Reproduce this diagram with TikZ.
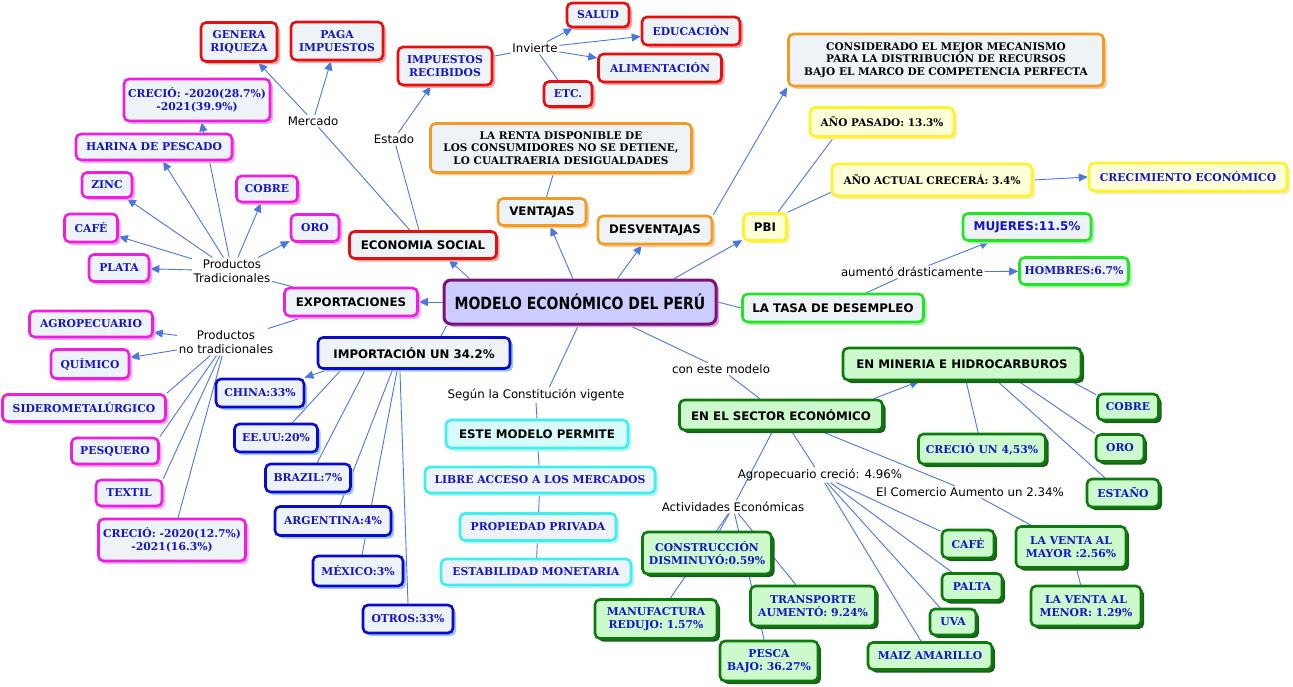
\documentclass[tikz,border=0pt]{standalone}
\usepackage{fontspec}
\setmainfont{DejaVu Serif}
\setsansfont{DejaVu Sans}
\usepackage{graphicx}
\usetikzlibrary{arrows.meta,shadows}
\definecolor{cred}{HTML}{E60F0F}
\definecolor{shred}{HTML}{F7A6A6}
\definecolor{cmag}{HTML}{EE1EE0}
\definecolor{shmag}{HTML}{F7A8EA}
\definecolor{corange}{HTML}{F29A26}
\definecolor{shorange}{HTML}{F7CC98}
\definecolor{cyel}{HTML}{FFF22A}
\definecolor{shyel}{HTML}{F4F0A8}
\definecolor{yfill}{HTML}{FFFFD8}
\definecolor{cgreen}{HTML}{22E622}
\definecolor{shgreen}{HTML}{A8EEA8}
\definecolor{cdgreen}{HTML}{0E7A0E}
\definecolor{shdgreen}{HTML}{1C5E1C}
\definecolor{dfill}{HTML}{CCFACC}
\definecolor{cblue}{HTML}{0A0ACD}
\definecolor{shblue}{HTML}{9EC4F8}
\definecolor{ccyan}{HTML}{3CF0F0}
\definecolor{shcyan}{HTML}{B8F2F2}
\definecolor{cyfill}{HTML}{D6FCFC}
\definecolor{cpurple}{HTML}{7A127A}
\definecolor{cfill}{HTML}{CCCCFF}
\definecolor{shpurple}{HTML}{D9A0E8}
\definecolor{boxfill}{HTML}{EEF3F7}
\definecolor{tblue}{HTML}{1414C8}
\definecolor{cline}{HTML}{4A78E0}
\pgfdeclarelayer{bgwhite}
\pgfdeclarelayer{edges}
\pgfsetlayers{bgwhite,edges,main}
\begin{document}
\begin{tikzpicture}[x=1pt,y=-1pt,
  base/.style={rounded corners=5pt, line width=2.6pt, align=center, inner sep=1pt, fill=boxfill},
  sh/.style={drop shadow={shadow xshift=3pt, shadow yshift=-3pt, fill=#1, opacity=1}},
  sansbold/.style={font=\sffamily\bfseries\fontsize{11.8}{14}\selectfont},
  bluesans/.style={font=\sffamily\bfseries\fontsize{12}{14}\selectfont, text=tblue},
  blueserif/.style={font=\rmfamily\bfseries\fontsize{10.8}{12.5}\selectfont, text=tblue},
  blackserif/.style={font=\rmfamily\bfseries\fontsize{10.5}{12.2}\selectfont},
  lab/.style={font=\sffamily\fontsize{11.8}{14.5}\selectfont, inner sep=1.5pt, align=center},
  redbox/.style={base, draw=cred, sh=shred},
  magbox/.style={base, draw=cmag, sh=shmag},
  orabox/.style={base, draw=corange, sh=shorange},
  yelbox/.style={base, draw=cyel, sh=shyel, fill=yfill},
  grnbox/.style={base, draw=cgreen, sh=shgreen},
  dgrbox/.style={base, draw=cdgreen, sh=shdgreen, fill=dfill},
  blubox/.style={base, draw=cblue, sh=shblue},
  cyabox/.style={base, draw=ccyan, sh=shcyan},
  cenbox/.style={base, draw=cpurple, fill=cfill, sh=shpurple, line width=3pt, rounded corners=7pt},
  lnk/.style={draw=cline, line width=0.9pt},
  arr/.style={lnk, -{Triangle[length=9pt,width=8pt]}}
]
\begin{pgfonlayer}{bgwhite}
\fill[white] (0,0) rectangle (1293,687);
\end{pgfonlayer}
\useasboundingbox (0,0) rectangle (1293,687);

% center
\node[cenbox, font=\sffamily\bfseries\fontsize{14}{16}\selectfont, minimum width=272, minimum height=44] (c) at (580,302) {\scalebox{1}[1.2]{MODELO ECONÓMICO DEL PERÚ}};

% main branches
\node[redbox,sansbold,minimum width=147,minimum height=27] (eco) at (423,245) {ECONOMIA SOCIAL};
\node[orabox,sansbold,minimum width=88,minimum height=27] (ven) at (542,212) {VENTAJAS};
\node[orabox,sansbold,minimum width=114,minimum height=28] (des) at (655,230) {DESVENTAJAS};
\node[yelbox,sansbold,minimum width=43,minimum height=27] (pbi) at (765,227) {PBI};
\node[grnbox,sansbold,minimum width=181,minimum height=28] (desemp) at (833,308) {LA TASA DE DESEMPLEO};
\node[magbox,sansbold,minimum width=133,minimum height=28] (exp) at (351,302) {EXPORTACIONES};
\node[blubox,sansbold,minimum width=192,minimum height=31] (imp) at (414,353) {IMPORTACIÓN UN 34.2\%};
\node[cyabox,sansbold,fill=cyfill,minimum width=182,minimum height=28] (este) at (537,434) {ESTE MODELO PERMITE};
\node[dgrbox,sansbold,minimum width=203,minimum height=30] (sector) at (781,415) {EN EL SECTOR ECONÓMICO};
\node[dgrbox,sansbold,minimum width=238,minimum height=32] (miner) at (962,364) {EN MINERIA E HIDROCARBUROS};

% economia social
\node[redbox,blueserif,minimum width=76,minimum height=39] (genera) at (239,42) {GENERA\\RIQUEZA};
\node[redbox,blueserif,minimum width=92,minimum height=38] (paga) at (337,41) {PAGA\\IMPUESTOS};
\node[redbox,blueserif,minimum width=94,minimum height=38] (impr) at (445,66) {IMPUESTOS\\RECIBIDOS};
\node[redbox,blueserif,minimum width=62,minimum height=24] (salud) at (598,15) {SALUD};
\node[redbox,blueserif,minimum width=98,minimum height=28] (educ) at (691,31) {EDUCACIÓN};
\node[redbox,blueserif,minimum width=123,minimum height=28] (alim) at (660,68) {ALIMENTACIÓN};
\node[redbox,blueserif,minimum width=48,minimum height=25] (etc) at (568,94) {ETC.};
\node[lab] (mercado) at (313,121) {Mercado};
\node[lab] (estado) at (394,139) {Estado};
\node[lab] (invierte) at (535,48) {Invierte};

% ventajas / desventajas / pbi
\node[orabox,blackserif,minimum width=261,minimum height=49] (renta) at (561,148) {LA RENTA DISPONIBLE DE\\LOS CONSUMIDORES NO SE DETIENE,\\LO CUALTRAERIA DESIGUALDADES};
\node[orabox,blackserif,minimum width=315,minimum height=52] (cons) at (946,60) {CONSIDERADO EL MEJOR MECANISMO\\PARA LA DISTRIBUCIÓN DE RECURSOS\\BAJO EL MARCO DE COMPETENCIA PERFECTA};
\node[yelbox,blackserif,minimum width=144,minimum height=29] (apas) at (882,122) {AÑO PASADO: 13.3\%};
\node[yelbox,blackserif,minimum width=200,minimum height=32] (aact) at (932,180) {AÑO ACTUAL CRECERÁ: 3.4\%};
\node[yelbox,blueserif,minimum width=198,minimum height=28] (crecim) at (1188,177) {CRECIMIENTO ECONÓMICO};

% desempleo
\node[grnbox,bluesans,minimum width=128,minimum height=27] (muj) at (1027,227) {MUJERES:11.5\%};
\node[grnbox,blueserif,minimum width=109,minimum height=27] (hom) at (1074,271) {HOMBRES:6.7\%};
\node[lab] (aum) at (912,272) {aumentó drásticamente};

% exportaciones
\node[lab] (ptrad) at (232,271) {Productos\\Tradicionales};
\node[lab] (pnotrad) at (226,342) {Productos\\no tradicionales};
\node[magbox,blueserif,minimum width=146,minimum height=42] (crecA) at (197,100) {CRECIÓ: -2020(28.7\%)\\-2021(39.9\%)};
\node[magbox,blueserif,minimum width=156,minimum height=26] (harina) at (154,147) {HARINA DE PESCADO};
\node[magbox,blueserif,minimum width=50,minimum height=25] (zinc) at (107,185) {ZINC};
\node[magbox,blueserif,minimum width=61,minimum height=26] (cobreA) at (267,189) {COBRE};
\node[magbox,blueserif,minimum width=53,minimum height=28] (cafeA) at (91,228) {CAFÉ};
\node[magbox,blueserif,minimum width=48,minimum height=27] (oroA) at (315,228) {ORO};
\node[magbox,blueserif,minimum width=60,minimum height=27] (plata) at (119,268) {PLATA};
\node[magbox,blueserif,minimum width=123,minimum height=26] (agro) at (91,324) {AGROPECUARIO};
\node[magbox,blueserif,minimum width=78,minimum height=29] (quim) at (90,364) {QUÍMICO};
\node[magbox,blueserif,minimum width=163,minimum height=27] (sider) at (84,408) {SIDEROMETALÚRGICO};
\node[magbox,blueserif,minimum width=87,minimum height=26] (pesq) at (115,451) {PESQUERO};
\node[magbox,blueserif,minimum width=66,minimum height=26] (textil) at (129,493) {TEXTIL};
\node[magbox,blueserif,minimum width=147,minimum height=42] (crecB) at (172,540) {CRECIÓ: -2020(12.7\%)\\-2021(16.3\%)};

% importacion
\node[blubox,blueserif,minimum width=88,minimum height=28] (china) at (260,393) {CHINA:33\%};
\node[blubox,blueserif,minimum width=83,minimum height=28] (eeuu) at (276,438) {EE.UU:20\%};
\node[blubox,blueserif,minimum width=85,minimum height=28] (brazil) at (308,478) {BRAZIL:7\%};
\node[blubox,blueserif,minimum width=116,minimum height=29] (arg) at (333,521) {ARGENTINA:4\%};
\node[blubox,blueserif,minimum width=90,minimum height=30] (mex) at (358,571) {MÉXICO:3\%};
\node[blubox,blueserif,minimum width=90,minimum height=28] (otros) at (408,619) {OTROS:33\%};

% constitucion
\node[lab] (segun) at (536,395) {Según la Constitución vigente};
\node[cyabox,blueserif,minimum width=230,minimum height=26] (libre) at (540,480) {LIBRE ACCESO A LOS MERCADOS};
\node[cyabox,blueserif,minimum width=156,minimum height=27] (prop) at (538,527) {PROPIEDAD PRIVADA};
\node[cyabox,blueserif,minimum width=190,minimum height=26] (estab) at (536,572) {ESTABILIDAD MONETARIA};

% sector economico
\node[lab] (conm) at (721,369) {con este modelo};
\node[lab] (agrol) at (820,475) {Agropecuario creció: 4.96\%};
\node[lab] (comer) at (970,492) {El Comercio Aumento un 2.34\%};
\node[lab] (activ) at (733,507) {Actividades Económicas};
\node[dgrbox,blueserif,minimum width=127,minimum height=30] (crec453) at (982,449) {CRECIÓ UN 4,53\%};
\node[dgrbox,blueserif,minimum width=61,minimum height=26] (cobreB) at (1128,407) {COBRE};
\node[dgrbox,blueserif,minimum width=48,minimum height=27] (oroB) at (1120,448) {ORO};
\node[dgrbox,blueserif,minimum width=72,minimum height=28] (estano) at (1123,493) {ESTAÑO};
\node[dgrbox,blueserif,minimum width=52,minimum height=28] (cafeB) at (968,544) {CAFÉ};
\node[dgrbox,blueserif,minimum width=60,minimum height=27] (palta) at (972,587) {PALTA};
\node[dgrbox,blueserif,minimum width=46,minimum height=26] (uva) at (953,622) {UVA};
\node[dgrbox,blueserif,minimum width=124,minimum height=27] (maiz) at (930,656) {MAIZ AMARILLO};
\node[dgrbox,blueserif,minimum width=110,minimum height=41] (vmayor) at (1071,547) {LA VENTA AL\\MAYOR :2.56\%};
\node[dgrbox,blueserif,minimum width=110,minimum height=40] (vmenor) at (1086,606) {LA VENTA AL\\MENOR: 1.29\%};
\node[dgrbox,blueserif,minimum width=129,minimum height=42] (constr) at (707,553) {CONSTRUCCIÓN\\DISMINUYÓ:0.59\%};
\node[dgrbox,blueserif,minimum width=122,minimum height=39] (manuf) at (656,619) {MANUFACTURA\\REDUJO: 1.57\%};
\node[dgrbox,blueserif,minimum width=125,minimum height=40] (transp) at (813,606) {TRANSPORTE\\AUMENTÓ: 9.24\%};
\node[dgrbox,blueserif,minimum width=98,minimum height=40] (pesca) at (769,661) {PESCA\\BAJO: 36.27\%};

\begin{pgfonlayer}{edges}
% from center
\draw[arr] (c.168) -- (eco.330);
\draw[arr] (c.107) -- (ven.300);
\draw[arr] (c.32) -- (des.229);
\draw[arr] (c.14) -- (pbi.210);
\draw[lnk] (c.east) -- (desemp.west);
\draw[arr] (c.west) -- (exp.east);
\draw[lnk] (c.190) -- (imp.32);
\draw[lnk] (c.266) -- (segun.30);
\draw[lnk] (c) -- (conm);
% economia social
\draw[lnk] (eco) -- (mercado);
\draw[arr] (mercado) -- (genera);
\draw[arr] (mercado) -- (paga);
\draw[lnk] (eco) -- (estado);
\draw[arr] (estado) -- (impr);
\draw[lnk] (impr) -- (invierte);
\draw[arr] (invierte) -- (salud);
\draw[arr] (invierte) -- (educ);
\draw[arr] (invierte) -- (alim);
\draw[lnk] (invierte) -- (etc);
% ventajas etc
\draw[lnk] (ven) -- (renta);
\draw[arr] (des.north east) -- (cons.south west);
\draw[lnk] (pbi.49) -- (apas.198);
\draw[lnk] (pbi.north east) -- (aact.187);
\draw[arr] (aact.east) -- (crecim.west);
% desempleo
\draw[lnk] (desemp) -- (aum);
\draw[arr] (aum) -- (muj);
\draw[arr] (aum) -- (hom);
% exportaciones
\draw[lnk] (exp) -- (ptrad);
\draw[arr] (ptrad) -- (plata);
\draw[arr] (ptrad) -- (cafeA);
\draw[arr] (ptrad) -- (zinc);
\draw[arr] (ptrad) -- (harina);
\draw[arr] (ptrad) -- (crecA);
\draw[arr] (ptrad) -- (cobreA);
\draw[arr] (ptrad) -- (oroA);
\draw[lnk] (exp) -- (pnotrad);
\draw[arr] (pnotrad) -- (agro);
\draw[arr] (pnotrad) -- (quim);
\draw[lnk] (pnotrad) -- (sider.north east);
\draw[lnk] (pnotrad) -- (pesq.north east);
\draw[lnk] (pnotrad) -- (textil.north east);
\draw[lnk] (pnotrad) -- (crecB);
% importacion
\draw[arr] (imp.191) -- (china.19);
\draw[lnk] (imp.193) -- (eeuu.43);
\draw[lnk] (imp.199) -- (brazil.59);
\draw[lnk] (imp.218) -- (arg.66);
\draw[lnk] (imp.225) -- (mex.76);
\draw[lnk] (imp.230) -- (otros.north);
% constitucion
\draw[lnk] (segun.south) -- (este.north);
\draw[lnk] (este) -- (libre);
\draw[lnk] (libre) -- (prop);
\draw[lnk] (prop) -- (estab);
% sector
\draw[lnk] (conm) -- (sector);
\draw[arr] (sector.10) -- (miner.202);
\draw[lnk] (miner) -- (crec453);
\draw[lnk] (miner.351) -- (cobreB.159);
\draw[lnk] (miner.343) -- (oroB.north west);
\draw[lnk] (miner.334) -- (estano.140);
\draw[lnk] (sector) -- (agrol);
\draw[lnk] (agrol) -- (cafeB);
\draw[lnk] (agrol) -- (palta);
\draw[lnk] (agrol) -- (uva);
\draw[lnk] (agrol) -- (maiz);
\draw[lnk] (sector) -- (comer);
\draw[lnk] (comer) -- (vmayor);
\draw[lnk] (vmayor) -- (vmenor);
\draw[lnk] (sector) -- (activ);
\draw[lnk] (activ) -- (constr);
\draw[lnk] (activ) -- (manuf);
\draw[lnk] (activ) -- (pesca);
\draw[lnk] (activ) -- (transp);
\end{pgfonlayer}
\end{tikzpicture}
\end{document}
